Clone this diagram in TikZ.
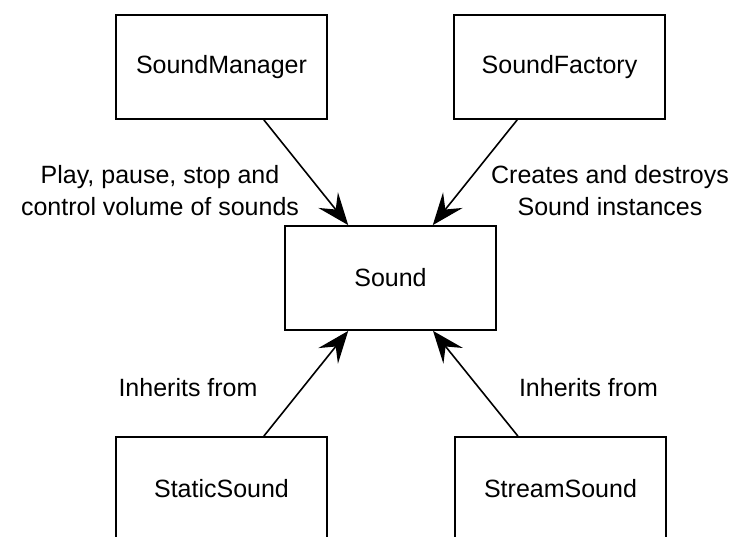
\documentclass[tikz,border=0pt]{standalone}
\usepackage{fontspec}
\setmainfont{Liberation Sans}
\usetikzlibrary{arrows.meta}
\begin{document}
\begin{tikzpicture}[x=1pt,y=-1pt,
  box/.style={draw, line width=1.8pt, minimum width=211pt, minimum height=104pt, inner sep=0pt, font=\fontsize{25}{30}\selectfont},
  lbl/.style={align=center, font=\fontsize{25}{32}\selectfont, inner sep=0pt},
  conn/.style={line width=1.6pt, -{Stealth[length=32pt,width=25pt,inset=12pt]}}]
\useasboundingbox (0,0) rectangle (738,536);
\node[box] (mgr) at (221.5,67) {SoundManager};
\node[box] (fac) at (559.5,67) {SoundFactory};
\node[box] (snd) at (390.5,278) {Sound};
\node[box] (sta) at (221.5,489) {StaticSound};
\node[box] (str) at (560.5,489) {StreamSound};
\node[lbl] (l1) at (160,191) {Play, pause, stop and\\control volume of sounds};
\node[lbl] (l2) at (610,191) {Creates and destroys\\Sound instances};
\node[lbl] (l3) at (188,388) {Inherits from};
\node[lbl] (l4) at (588.5,388) {Inherits from};
\draw[conn] (mgr) -- (snd);
\draw[conn] (fac) -- (snd);
\draw[conn] (sta) -- (snd);
\draw[conn] (str) -- (snd);
\end{tikzpicture}
\end{document}
